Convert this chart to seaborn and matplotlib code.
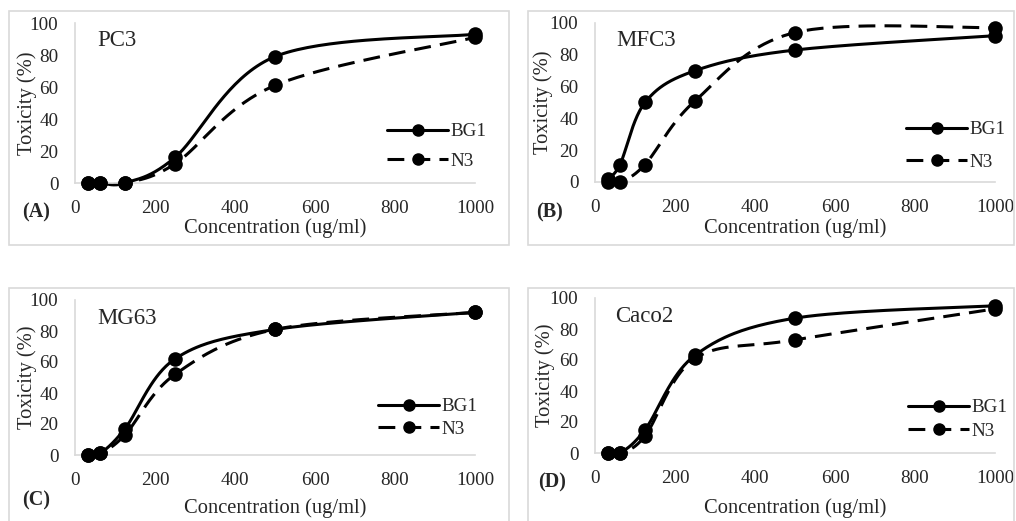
import numpy as np
import pandas as pd
import seaborn as sns
import matplotlib
matplotlib.use("Agg")
import matplotlib.pyplot as plt
from matplotlib.lines import Line2D
from matplotlib.patches import Rectangle

# concentrations (ug/ml)
conc = [31.25, 62.5, 125, 250, 500, 1000]

# toxicity (%) per cell line
pc3_bg1 = [0, 0, 0, 16, 79, 93]
pc3_n3 = [0, 0, 0, 12, 61, 91]
mfc3_bg1 = [2, 11, 50, 70, 83, 92]
mfc3_n3 = [0, 0, 11, 51, 94, 97]
mg63_bg1 = [0, 1, 17, 62, 81, 92]
mg63_n3 = [0, 1, 13, 52, 81, 92]
caco2_bg1 = [0, 0, 15, 63, 87, 95]
caco2_n3 = [0, 0, 11, 61, 73, 93]

cell_lines = ["PC3", "MFC3", "MG63", "Caco2"]
panel_tags = ["(A)", "(B)", "(C)", "(D)"]
series_names = ["BG1", "N3"]
x_ticks = [0, 200, 400, 600, 800, 1000]
y_ticks = [0, 20, 40, 60, 80, 100]

W, H = 1016, 521
sns.set_style("white")
plt.rcParams["font.family"] = ["Liberation Serif", "DejaVu Serif"]


def smooth(x, y, n=40):
    # Excel style smoothed line (bezier through the points)
    P = np.column_stack([np.asarray(x, float) / 1000 * 2.5, np.asarray(y, float) / 100])
    Pe = np.vstack([P[0], P, P[-1]])
    out = []
    t = np.linspace(0, 1, n)[:, None]
    for i in range(len(P) - 1):
        p0, p1, p2, p3 = Pe[i], Pe[i + 1], Pe[i + 2], Pe[i + 3]
        b1 = p1 + (p2 - p0) / 6
        b2 = p2 - (p3 - p1) / 6
        seg = (1 - t) ** 3 * p1 + 3 * (1 - t) ** 2 * t * b1 + 3 * (1 - t) * t ** 2 * b2 + t ** 3 * p2
        out.append(seg if i == 0 else seg[1:])
    pts = np.vstack(out)
    return pts[:, 0] / 2.5 * 1000, pts[:, 1] * 100


def px_axes(fig, x0, x1, ytop, ybot):
    return fig.add_axes([x0 / W, 1 - ybot / H, (x1 - x0) / W, (ybot - ytop) / H])


fig = plt.figure(figsize=(W / 100, H / 100), dpi=100)

# panel frames
for (bx0, by0, bx1, by1) in [(9, 11, 509, 245), (528, 11, 1014, 245),
                             (9, 288, 509, 530), (528, 288, 1014, 530)]:
    fig.patches.append(Rectangle((bx0 / W, 1 - by1 / H), (bx1 - bx0) / W, (by1 - by0) / H,
                                 transform=fig.transFigure, fill=False,
                                 edgecolor="#d9d9d9", lw=1.2))

panels = [
    dict(data=(pc3_bg1, pc3_n3), box=(75, 475, 23, 183), name=(97, 40), tag=(22, 212),
         leg=(387, 123), gap=0.62, ylab=27, xlab=228),
    dict(data=(mfc3_bg1, mfc3_n3), box=(595, 995, 23, 182), name=(616, 40), tag=(536, 212),
         leg=(906, 121), gap=0.78, ylab=543, xlab=228),
    dict(data=(mg63_bg1, mg63_n3), box=(75, 475, 300, 455), name=(97, 318), tag=(22, 500),
         leg=(378, 398), gap=0.28, ylab=27, xlab=508),
    dict(data=(caco2_bg1, caco2_n3), box=(595, 995, 298, 453), name=(615, 317), tag=(538, 482),
         leg=(908, 399), gap=0.32, ylab=545, xlab=508),
]

styles = ["-", (0, (5.5, 3))]
lw = 2.2

for k, p in enumerate(panels):
    x0, x1, yt, yb = p["box"]
    ax = px_axes(fig, x0, x1, yt, yb)
    for s, vals in enumerate(p["data"]):
        sx, sy = smooth(conc, vals)
        sns.lineplot(x=sx, y=sy, ax=ax, color="black", lw=lw, sort=False, estimator=None)
        ax.lines[-1].set_linestyle(styles[s])
        ax.lines[-1].set_clip_on(False)
        df = pd.DataFrame({"conc": conc, "tox": vals})
        sns.scatterplot(data=df, x="conc", y="tox", ax=ax, color="black", s=110,
                        edgecolor="black", linewidth=0, zorder=5, clip_on=False)
    ax.set_xlim(0, 1000)
    ax.set_ylim(0, 100)
    ax.set_xticks(x_ticks)
    ax.set_yticks(y_ticks)
    ax.tick_params(length=0, labelsize=13.8, pad=12)
    ax.tick_params(axis="y", pad=12)
    for side in ["top", "right"]:
        ax.spines[side].set_visible(False)
    for side in ["left", "bottom"]:
        ax.spines[side].set_color("#d9d9d9")
        ax.spines[side].set_linewidth(1.2)
    ax.set_xlabel("")
    ax.set_ylabel("")
    ax.set_facecolor("none")

    fig.text((x0 + x1) / 2 / W, 1 - p["xlab"] / H, "Concentration (ug/ml)",
             ha="center", va="center", fontsize=14.8)
    fig.text(p["ylab"] / W, 1 - (yt + yb) / 2 / H, "Toxicity (%)", rotation=90,
             ha="center", va="center", fontsize=14.8)
    fig.text(p["name"][0] / W, 1 - p["name"][1] / H, cell_lines[k],
             ha="left", va="center", fontsize=16.5)
    fig.text(p["tag"][0] / W, 1 - p["tag"][1] / H, panel_tags[k],
             ha="left", va="center", fontsize=14.5, fontweight="bold")

    handles = [Line2D([], [], color="black", lw=lw, ls=styles[i], marker="o", ms=8)
               for i in range(2)]
    ax.legend(handles, series_names, loc="upper left",
              bbox_to_anchor=(p["leg"][0] / W, 1 - p["leg"][1] / H),
              bbox_transform=fig.transFigure, frameon=False, borderpad=0,
              borderaxespad=0, handlelength=3.2, handletextpad=0.1,
              labelspacing=p["gap"], fontsize=13.8)

fig.savefig("out.png", dpi=100)
